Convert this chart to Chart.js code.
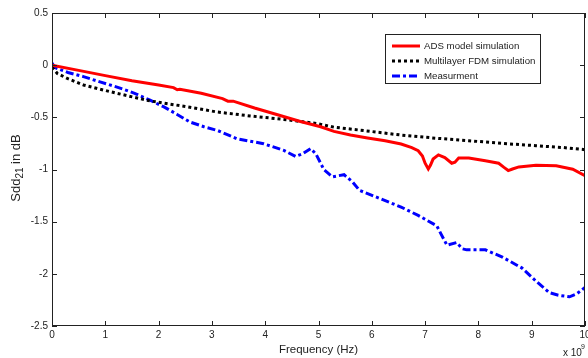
<!DOCTYPE html>
<html>
<head>
<meta charset="utf-8">
<script src="https://cdn.jsdelivr.net/npm/chart.js@4"></script>
<style>
  html, body { margin: 0; padding: 0; background: #fff; }
  #wrap { width: 588px; height: 358px; }
</style>
</head>
<body>
<div id="wrap"><canvas id="chart"></canvas></div>
<script>
// frequency in GHz (axis shows x 10^9), Sdd21 in dB
const adsX = [0, 0.5, 1, 1.5, 2, 2.28, 2.35, 2.4, 2.8, 3.2, 3.3, 3.4, 3.8, 4.2, 4.66, 5.04, 5.29, 5.6, 5.92, 6.25, 6.55, 6.75, 6.87, 6.95, 7.0, 7.06, 7.1, 7.15, 7.25, 7.37, 7.5, 7.56, 7.63, 7.82, 8.13, 8.38, 8.48, 8.56, 8.64, 8.76, 9.08, 9.46, 9.77, 10];
const adsY = [0, -0.05, -0.10, -0.15, -0.19, -0.215, -0.235, -0.23, -0.27, -0.32, -0.345, -0.345, -0.41, -0.47, -0.54, -0.59, -0.635, -0.67, -0.698, -0.725, -0.756, -0.79, -0.82, -0.87, -0.94, -0.995, -0.96, -0.90, -0.86, -0.885, -0.94, -0.93, -0.89, -0.89, -0.917, -0.94, -0.98, -1.01, -0.995, -0.975, -0.96, -0.965, -0.998, -1.06];

const fdmX = [0, 0.1, 0.3, 0.59, 0.9, 1.22, 1.84, 2.47, 3.1, 3.72, 4.35, 4.98, 5.29, 5.9, 6.55, 7.2, 7.82, 8.45, 9.08, 9.6, 10];
const fdmY = [-0.02, -0.08, -0.13, -0.19, -0.23, -0.27, -0.343, -0.394, -0.449, -0.487, -0.52, -0.56, -0.594, -0.63, -0.67, -0.70, -0.724, -0.75, -0.772, -0.79, -0.81];

const measX = [0, 0.05, 0.09, 0.3, 0.59, 0.9, 1.22, 1.55, 1.84, 2.1, 2.34, 2.59, 2.85, 3.1, 3.47, 3.97, 4.35, 4.57, 4.7, 4.85, 4.95, 5.1, 5.26, 5.48, 5.64, 5.77, 6.11, 6.55, 6.87, 7.22, 7.3, 7.41, 7.59, 7.7, 7.78, 8.13, 8.45, 8.82, 9.08, 9.33, 9.5, 9.71, 9.85, 10];
const measY = [0.02, -0.02, -0.03, -0.07, -0.11, -0.16, -0.21, -0.27, -0.336, -0.40, -0.47, -0.545, -0.59, -0.625, -0.705, -0.753, -0.817, -0.875, -0.85, -0.80, -0.85, -1.0, -1.07, -1.05, -1.12, -1.20, -1.27, -1.36, -1.44, -1.54, -1.62, -1.725, -1.70, -1.76, -1.77, -1.77, -1.84, -1.945, -2.07, -2.18, -2.205, -2.22, -2.19, -2.13];

const xTicks = [0, 1, 2, 3, 4, 5, 6, 7, 8, 9, 10];
const yTicks = [0.5, 0, -0.5, -1, -1.5, -2, -2.5];

const FONT = "'Liberation Sans', Arial, sans-serif";

function puntos(xs, ys) {
    return xs.map((x, i) => ({ x: x, y: ys[i] }));
}

const marco = {
    id: "marco",
    afterDraw(chart) {
        const { ctx, chartArea: a, scales: { x, y } } = chart;
        ctx.save();
        ctx.strokeStyle = "#222";
        ctx.lineWidth = 1;
        ctx.strokeRect(a.left + 0.5, a.top + 0.5, a.right - a.left - 1, a.bottom - a.top - 1);
        ctx.beginPath();
        xTicks.forEach(v => {
            const px = Math.round(x.getPixelForValue(v)) + 0.5;
            ctx.moveTo(px, a.bottom); ctx.lineTo(px, a.bottom - 5);
            ctx.moveTo(px, a.top); ctx.lineTo(px, a.top + 5);
        });
        yTicks.forEach(v => {
            const py = Math.round(y.getPixelForValue(v)) + 0.5;
            ctx.moveTo(a.left, py); ctx.lineTo(a.left + 5, py);
            ctx.moveTo(a.right, py); ctx.lineTo(a.right - 5, py);
        });
        ctx.stroke();

        // titulos
        ctx.fillStyle = "#222";
        ctx.font = "11.5px " + FONT;
        ctx.textAlign = "center";
        ctx.textBaseline = "alphabetic";
        ctx.fillText("Frequency (Hz)", (a.left + a.right) / 2, 353);

        ctx.textAlign = "left";
        ctx.font = "10px " + FONT;
        ctx.fillText("x 10", 563, 356);
        ctx.font = "7px " + FONT;
        ctx.fillText("9", 581, 349);

        ctx.translate(20, 168);
        ctx.rotate(-Math.PI / 2);
        ctx.font = "13px " + FONT;
        const w1 = ctx.measureText("Sdd").width;
        ctx.font = "10px " + FONT;
        const w2 = ctx.measureText("21").width;
        ctx.font = "13px " + FONT;
        const w3 = ctx.measureText(" in dB").width;
        let sx = -(w1 + w2 + w3) / 2;
        ctx.fillText("Sdd", sx, 0);
        ctx.font = "10px " + FONT;
        ctx.fillText("21", sx + w1, 3);
        ctx.font = "13px " + FONT;
        ctx.fillText(" in dB", sx + w1 + w2, 0);
        ctx.restore();

        // leyenda
        ctx.save();
        ctx.fillStyle = "#fff";
        ctx.fillRect(385, 34, 156, 50);
        ctx.strokeStyle = "#222";
        ctx.strokeRect(385.5, 34.5, 155, 49);
        ctx.font = "9.7px " + FONT;
        ctx.textBaseline = "middle";
        chart.data.datasets.forEach((ds, i) => {
            const ly = 46 + i * 15;
            ctx.strokeStyle = ds.borderColor;
            ctx.lineWidth = ds.borderWidth;
            ctx.setLineDash(ds.borderDash || []);
            ctx.beginPath();
            ctx.moveTo(392, ly);
            ctx.lineTo(420, ly);
            ctx.stroke();
            ctx.setLineDash([]);
            ctx.fillStyle = "#222";
            ctx.fillText(ds.label, 424, ly);
        });
        ctx.restore();
    }
};

new Chart(document.getElementById("chart"), {
    type: "scatter",
    data: {
        datasets: [
            { label: "ADS model simulation", data: puntos(adsX, adsY), borderColor: "#ff0000", borderWidth: 3, showLine: true, pointRadius: 0 },
            { label: "Multilayer FDM simulation", data: puntos(fdmX, fdmY), borderColor: "#000000", borderWidth: 3, borderDash: [3, 3], showLine: true, pointRadius: 0 },
            { label: "Measurment", data: puntos(measX, measY), borderColor: "#0000ff", borderWidth: 3, borderDash: [8, 3, 3, 3], showLine: true, pointRadius: 0 }
        ]
    },
    options: {
        responsive: true,
        maintainAspectRatio: false,
        animation: false,
        layout: { padding: { left: 0, top: 13, right: 3, bottom: 0 } },
        plugins: { legend: { display: false }, tooltip: { enabled: false } },
        scales: {
            x: {
                type: "linear", min: 0, max: 10,
                afterBuildTicks: s => { s.ticks = xTicks.map(v => ({ value: v })); },
                afterFit: s => { s.height = 32; s.paddingLeft = 0; s.paddingRight = 0; },
                grid: { display: false, drawTicks: false },
                border: { display: false },
                ticks: { padding: 3, maxRotation: 0, autoSkip: false, color: "#222", font: { family: FONT, size: 10 }, callback: v => String(v) }
            },
            y: {
                min: -2.5, max: 0.5,
                afterBuildTicks: s => { s.ticks = yTicks.map(v => ({ value: v })); },
                afterFit: s => { s.width = 52; s.paddingTop = 0; s.paddingBottom = 0; },
                grid: { display: false, drawTicks: false },
                border: { display: false },
                ticks: { padding: 4, autoSkip: false, color: "#222", font: { family: FONT, size: 10 }, callback: v => String(v) }
            }
        }
    },
    plugins: [marco]
});
</script>
</body>
</html>
